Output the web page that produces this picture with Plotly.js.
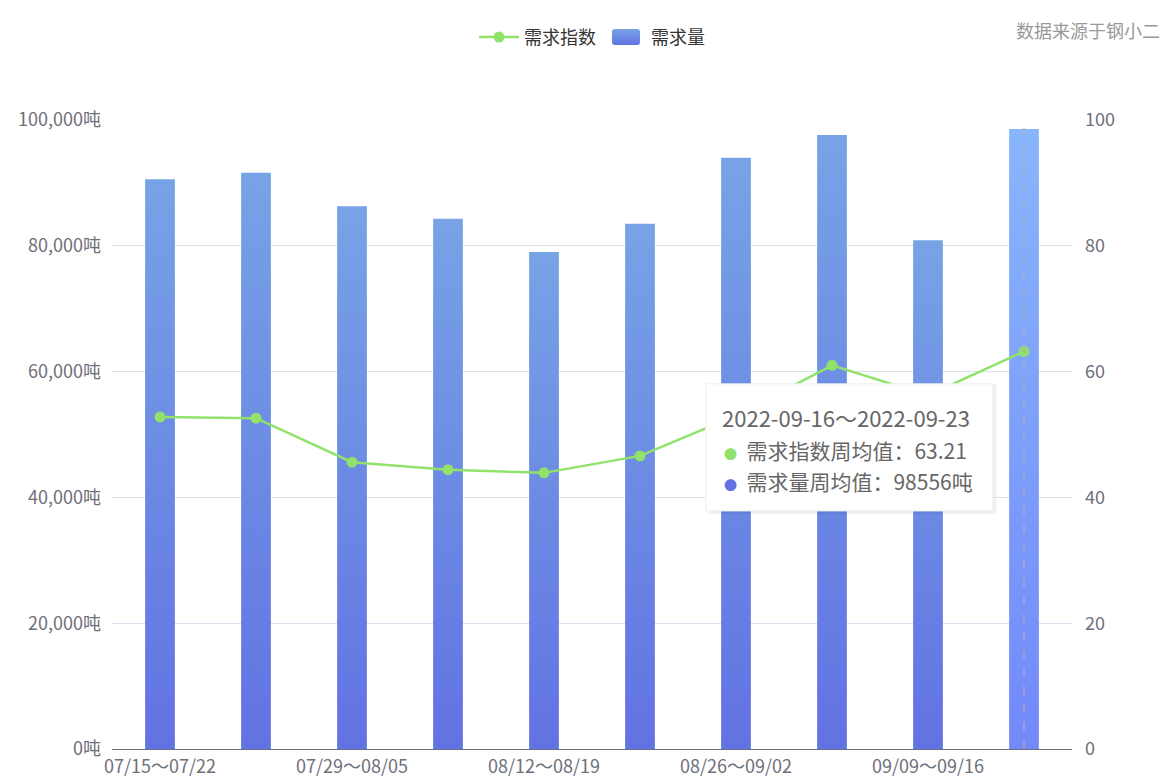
<!DOCTYPE html>
<html>
<head>
<meta charset="utf-8">
<script src="https://cdn.plot.ly/plotly-3.0.1.min.js"></script>
<style>
html,body{margin:0;padding:0;background:#fff;}
#chart{width:1172px;height:778px;}
</style>
</head>
<body>
<div id="chart"></div>
<script>
const categories = ["07/15～07/22","07/22～07/29","07/29～08/05","08/05～08/12","08/12～08/19","08/19～08/26","08/26～09/02","09/02～09/09","09/09～09/16","09/16～09/23"];
const demandVolume = [90600, 91600, 86300, 84300, 79000, 83500, 94000, 97600, 80900, 98556];
const demandIndex = [52.8, 52.6, 45.6, 44.4, 43.9, 46.6, 53.0, 61.0, 56.2, 63.21];
const tickLabels = ["07/15～07/22","07/29～08/05","08/12～08/19","08/26～09/02","09/09～09/16"];
const tooltipTitle = "2022-09-16～2022-09-23";
const tooltipIndexLabel = "需求指数周均值：";
const tooltipVolumeLabel = "需求量周均值：";

const FONT = "'Noto Sans CJK SC', 'Noto Sans', sans-serif";
const hi = categories.length - 1;

const traces = [
  {
    type: 'scatter', mode: 'lines+markers', name: '需求指数',
    x: categories, y: demandIndex, yaxis: 'y2',
    line: {color: '#91e26b', width: 2.5},
    marker: {color: '#91e26b', size: 11},
    hoverinfo: 'skip'
  },
  {
    type: 'bar', name: '需求量',
    x: categories, y: demandVolume,
    marker: {color: '#6d8ae5'},
    width: 0.31,
    hoverinfo: 'skip'
  }
];

const layout = {
  width: 1172, height: 778,
  margin: {l: 112, r: 100, t: 120, b: 29, autoexpand: false},
  paper_bgcolor: '#fff', plot_bgcolor: '#fff',
  font: {family: FONT, size: 16, color: '#6e7079'},
  showlegend: true,
  legend: {
    orientation: 'h', x: 0.5, xanchor: 'center', xref: 'paper',
    y: 0.952, yref: 'container', yanchor: 'middle',
    font: {family: FONT, size: 18, color: '#333'},
    itemwidth: 40, traceorder: 'normal'
  },
  xaxis: {
    type: 'category', categoryorder: 'array', categoryarray: categories,
    range: [-0.5, categories.length - 0.5],
    tickvals: tickLabels, ticktext: tickLabels,
    showgrid: false, zeroline: false, automargin: false,
    showline: true, linecolor: '#6e7079', linewidth: 1.2,
    ticks: '', ticklabelstandoff: 1,
    tickfont: {family: FONT, size: 18, color: '#6e7079'},
    fixedrange: true
  },
  yaxis: {
    range: [0, 100000], dtick: 20000, tick0: 0,
    tickformat: ',d', ticksuffix: '吨', automargin: false,
    showgrid: true, gridcolor: '#dde2f0', gridwidth: 1,
    zeroline: false, showline: false, ticks: '',
    ticklabelstandoff: 10,
    tickfont: {family: FONT, size: 18, color: '#6e7079'}
  },
  yaxis2: {
    overlaying: 'y', side: 'right', automargin: false,
    range: [0, 100], dtick: 20, tick0: 0,
    showgrid: false, zeroline: false, showline: false, ticks: '',
    ticklabelstandoff: 12,
    tickfont: {family: FONT, size: 18, color: '#6e7079'}
  },
  shapes: [
    {type: 'line', xref: 'x', yref: 'paper', x0: categories[hi], x1: categories[hi], y0: 0, y1: 1,
     line: {color: '#b0b0b0', width: 1.2, dash: 'dash'}, layer: 'above'},
    {type: 'rect', xref: 'paper', yref: 'paper', x0: 0.6215, x1: 0.9215, y0: 0.3735, y1: 0.5795,
     fillcolor: 'rgba(0,0,0,0.05)', line: {width: 0}, layer: 'above'},
    {type: 'rect', xref: 'paper', yref: 'paper', x0: 0.6185, x1: 0.9175, y0: 0.3785, y1: 0.5805,
     fillcolor: '#ffffff', line: {color: '#eeeeee', width: 1}, layer: 'above'}
  ],
  annotations: [
    {xref: 'paper', yref: 'paper', x: 1.094, y: 1.143, xanchor: 'right', yanchor: 'middle',
     text: '数据来源于钢小二', showarrow: false, font: {family: FONT, size: 18, color: '#999'}},
    {xref: 'paper', yref: 'paper', x: (720 - 112) / 960, y: (749 - 417) / 629, xanchor: 'left', yanchor: 'middle',
     text: tooltipTitle, showarrow: false, font: {family: FONT, size: 22, color: '#666'}},
    {xref: 'paper', yref: 'paper', x: (722 - 112) / 960, y: (749 - 450) / 629, xanchor: 'left', yanchor: 'middle',
     text: '<span style="color:#91e26b;font-size:13px">●</span>  ' + tooltipIndexLabel + demandIndex[hi],
     showarrow: false, font: {family: FONT, size: 21, color: '#666'}},
    {xref: 'paper', yref: 'paper', x: (722 - 112) / 960, y: (749 - 481) / 629, xanchor: 'left', yanchor: 'middle',
     text: '<span style="color:#6272e3;font-size:13px">●</span>  ' + tooltipVolumeLabel + demandVolume[hi] + '吨',
     showarrow: false, font: {family: FONT, size: 21, color: '#666'}}
  ]
};

function addGradients(gd) {
  const svg = gd.querySelector('svg.main-svg');
  const ns = 'http://www.w3.org/2000/svg';
  let defs = svg.querySelector('defs');
  if (!defs) { defs = document.createElementNS(ns, 'defs'); svg.insertBefore(defs, svg.firstChild); }
  function mk(id, top, bottom) {
    if (document.getElementById(id)) return;
    const g = document.createElementNS(ns, 'linearGradient');
    g.setAttribute('id', id);
    g.setAttribute('x1', '0'); g.setAttribute('y1', '0');
    g.setAttribute('x2', '0'); g.setAttribute('y2', '1');
    const s1 = document.createElementNS(ns, 'stop');
    s1.setAttribute('offset', '0'); s1.setAttribute('stop-color', top);
    const s2 = document.createElementNS(ns, 'stop');
    s2.setAttribute('offset', '1'); s2.setAttribute('stop-color', bottom);
    g.appendChild(s1); g.appendChild(s2); defs.appendChild(g);
  }
  mk('barGrad', '#77a3e6', '#6272e3');
  mk('barGradHi', '#88b5fc', '#7389fb');
  const bars = gd.querySelectorAll('.barlayer .point path');
  bars.forEach((p, i) => {
    p.style.fill = (i === hi) ? 'url(#barGradHi)' : 'url(#barGrad)';
  });
  const legTraces = gd.querySelectorAll('.legend .traces');
  legTraces.forEach(t => {
    const txt = t.querySelector('.legendtext');
    if (txt && txt.textContent === '需求量') {
      t.querySelectorAll('.legendpoints path').forEach(p => {
        p.setAttribute('d', 'M-11,-8H11A3,3 0 0 1 14,-5V5A3,3 0 0 1 11,8H-11A3,3 0 0 1 -14,5V-5A3,3 0 0 1 -11,-8Z');
        p.style.fill = 'url(#barGrad)';
        p.style.stroke = 'none';
        p.style.strokeWidth = '0';
      });
    }
  });
}

Plotly.newPlot('chart', traces, layout, {staticPlot: true, displayModeBar: false}).then(gd => {
  addGradients(gd);
  setTimeout(() => addGradients(gd), 50);
});
</script>
</body>
</html>
